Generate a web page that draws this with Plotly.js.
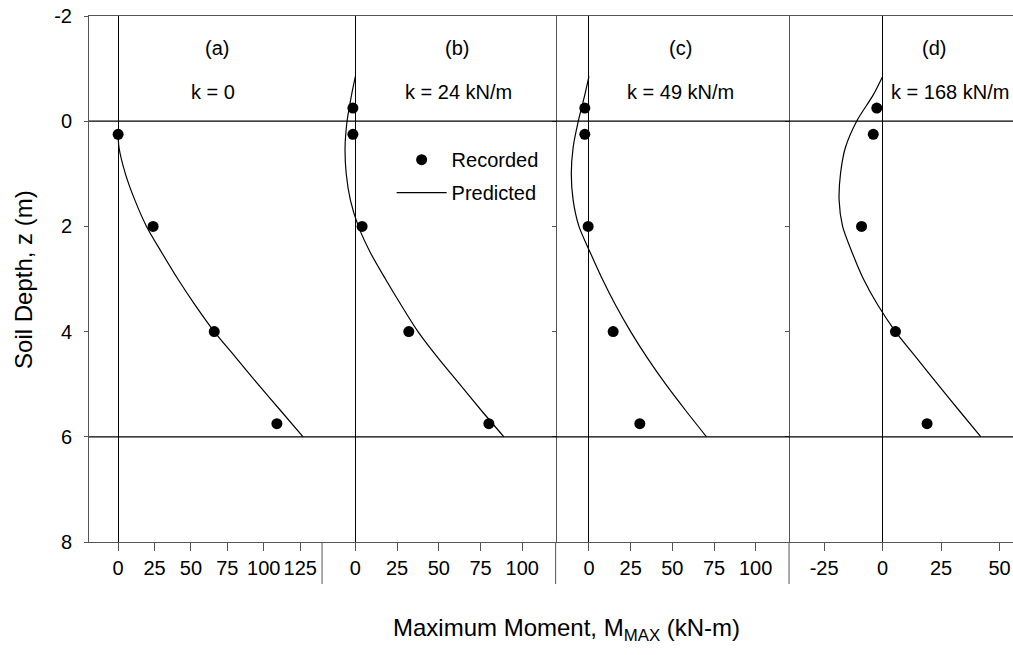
<!DOCTYPE html>
<html>
<head>
<meta charset="utf-8">
<script src="https://cdn.plot.ly/plotly-3.0.1.min.js"></script>
<style>
html, body { margin: 0; padding: 0; overflow: hidden; background: #fff; }
#chart { width: 1023px; height: 655px; }
</style>
</head>
<body>
<div id="chart"></div>
<script>
// ---- data ----
const recDepthA = [0.25, 2, 4, 5.75];
const recA = [0, 24, 66, 109];
const recDepthBCD = [-0.25, 0.25, 2, 4, 5.75];
const recB = [-1.5, -1.5, 4, 32, 80];
const recC = [-2.5, -2.5, -0.5, 14.5, 30.5];
const recD = [-2.5, -4, -9, 5.5, 19];

const predDepthA = [0.25, 0.5, 1, 1.5, 2, 2.5, 3, 3.5, 4, 4.5, 5, 5.5, 6];
const predA = [0, 0.6, 5, 11.5, 19.5, 30, 41, 53, 66, 81, 96, 111.5, 127];
const predDepthBCD = [-0.85, -0.5, 0, 0.5, 1, 1.5, 2, 2.5, 3, 3.5, 4, 4.5, 5, 5.5, 6];
const predB = [0, -2.3, -5, -6.2, -5.5, -3, 1.8, 9, 18, 27.5, 37.5, 49.5, 62.5, 75.5, 89];
const predC = [0, -2.5, -6.4, -9.5, -10.6, -9.5, -6, 0.8, 8, 16, 25, 35, 46, 58, 70.5];
const predD = [0, -4, -11.1, -15.9, -18, -18.6, -17.1, -13, -8.2, -2, 5.5, 14.5, 23.5, 32.7, 42];

const panelLetters = ['(a)', '(b)', '(c)', '(d)'];
const panelK = ['k = 0', 'k = 24 kN/m', 'k = 49 kN/m', 'k = 168 kN/m'];
const ticksA = [0, 25, 50, 75, 100, 125];
const ticksB = [0, 25, 50, 75, 100];
const ticksC = [0, 25, 50, 75, 100];
const ticksD = [-25, 0, 25, 50];
const depthTicks = [-2, 0, 2, 4, 6, 8];
const legendNames = ['Recorded', 'Predicted'];

// ---- style ----
const FONT = 'Arial, "Liberation Sans", sans-serif';
const FRAME = '#555555';
const axesX = ['x', 'x2', 'x3', 'x4'];
const axesY = ['y', 'y2', 'y3', 'y4'];
const recs = [recA, recB, recC, recD];
const recDepths = [recDepthA, recDepthBCD, recDepthBCD, recDepthBCD];
const preds = [predA, predB, predC, predD];
const predDepths = [predDepthA, predDepthBCD, predDepthBCD, predDepthBCD];
const hyphen = v => String(v); // plain hyphen-minus labels, as in the reference

const traces = [];
for (let i = 0; i < 4; i++) {
  traces.push({
    x: preds[i], y: predDepths[i], xaxis: axesX[i], yaxis: axesY[i],
    type: 'scatter', mode: 'lines', name: legendNames[1], legendgroup: 'p',
    line: {color: '#000', width: 1.2, shape: 'spline', smoothing: 0.8},
    showlegend: i === 1, legendrank: 2, hoverinfo: 'skip'
  });
  traces.push({
    x: recs[i], y: recDepths[i], xaxis: axesX[i], yaxis: axesY[i],
    type: 'scatter', mode: 'markers', name: legendNames[0], legendgroup: 'r',
    marker: {color: '#000', size: 11},
    showlegend: i === 1, legendrank: 1, hoverinfo: 'skip'
  });
}

const doms = [[0, 0.2495], [0.2495, 0.4996], [0.4996, 0.7495], [0.7495, 1]];
const ranges = [[-20, 140], [-20, 120], [-20, 120], [-40, 60]];
const tickSets = [ticksA, ticksB, ticksC, ticksD];

const layout = {
  width: 1023, height: 655,
  margin: {l: 89, r: 0, t: 16, b: 113},
  paper_bgcolor: '#fff', plot_bgcolor: '#fff',
  font: {family: FONT, size: 20, color: '#000'},
  showlegend: true,
  legend: {
    x: 0.324, y: 0.764, xanchor: 'left', yanchor: 'top',
    bgcolor: 'rgba(0,0,0,0)', borderwidth: 0,
    font: {family: FONT, size: 20, color: '#000'},
    itemwidth: 50, traceorder: 'grouped', tracegroupgap: 4
  },
  annotations: [],
  shapes: []
};

for (let i = 0; i < 4; i++) {
  const key = i === 0 ? 'xaxis' : 'xaxis' + (i + 1);
  layout[key] = {
    domain: doms[i], range: ranges[i], anchor: axesY[i],
    showline: true, linecolor: FRAME, linewidth: 1, mirror: true,
    showgrid: false, zeroline: true, zerolinecolor: '#000', zerolinewidth: 1,
    ticks: 'outside', ticklen: 8, tickcolor: FRAME, tickwidth: 1,
    tickmode: 'array', tickvals: tickSets[i], ticktext: tickSets[i].map(hyphen),
    tickfont: {family: FONT, size: 20, color: '#000'}, fixedrange: true
  };
  const ykey = i === 0 ? 'yaxis' : 'yaxis' + (i + 1);
  layout[ykey] = {
    range: [8, -2], anchor: axesX[i], domain: [0, 1],
    side: i === 0 ? 'left' : 'right',
    showline: true, linecolor: FRAME, linewidth: 1,
    showgrid: false, zeroline: false,
    ticks: i === 0 ? 'outside' : 'inside', ticklen: 4, tickcolor: FRAME,
    tickmode: 'array', tickvals: depthTicks, ticktext: depthTicks.map(hyphen),
    showticklabels: i === 0,
    tickfont: {family: FONT, size: 20, color: '#000'}, fixedrange: true
  };
  layout.annotations.push({
    xref: axesX[i], yref: axesY[i], x: [68, 61, 55, 22][i], y: -1.4,
    text: panelLetters[i], showarrow: false, font: {family: FONT, size: 20}
  });
  layout.annotations.push({
    xref: axesX[i], yref: axesY[i], x: [65, 62, 55, 29][i], y: -0.55,
    text: panelK[i], showarrow: false, font: {family: FONT, size: 20}
  });
}
// right-hand ticks of panel (a)
layout.yaxis5 = {
  range: [8, -2], overlaying: 'y', anchor: 'x', side: 'right',
  showline: true, linecolor: FRAME, linewidth: 1, showgrid: false, zeroline: false,
  ticks: 'inside', ticklen: 4, tickcolor: FRAME,
  tickmode: 'array', tickvals: depthTicks, showticklabels: false, fixedrange: true
};
layout.yaxis.ticklabelstandoff = 8;

// horizontal reference lines at 0 and 6 m
[0, 6].forEach(v => layout.shapes.push({
  type: 'line', xref: 'paper', yref: 'y', x0: 0, x1: 1, y0: v, y1: v,
  line: {color: '#000', width: 1.2}
}));
// panel separators extending below the axes
[doms[1][0], doms[2][0], doms[3][0]].forEach(p => layout.shapes.push({
  type: 'line', xref: 'paper', yref: 'paper', x0: p, x1: p, y0: 0, y1: -0.08,
  line: {color: FRAME, width: 1}
}));

// axis titles
layout.annotations.push({
  xref: 'paper', yref: 'paper', x: 0.511, y: -0.167, yanchor: 'middle',
  text: 'Maximum Moment, M<sub>MAX</sub> (kN-m)', showarrow: false,
  font: {family: FONT, size: 24}
});
layout.annotations.push({
  xref: 'paper', yref: 'paper', x: -0.0707, y: 0.50, textangle: -90,
  xanchor: 'center', yanchor: 'middle',
  text: 'Soil Depth, z (m)', showarrow: false, font: {family: FONT, size: 24}
});

Plotly.newPlot('chart', traces, layout, {displayModeBar: false, staticPlot: true});
</script>
</body>
</html>
